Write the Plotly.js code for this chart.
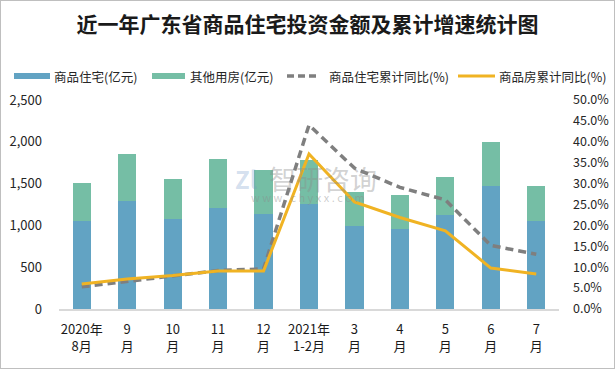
<!DOCTYPE html>
<html>
<head>
<meta charset="utf-8">
<script src="https://cdn.plot.ly/plotly-3.0.1.min.js"></script>
<style>
html,body{margin:0;padding:0;background:#fff;}
#wrap{position:absolute;left:0;top:0;width:613px;height:367px;border:1px solid #bfbfbf;}
#chart{position:absolute;left:-1px;top:-1px;width:615px;height:369px;}
</style>
</head>
<body>
<div id="wrap"><div id="chart"></div></div>
<script>
const categories = ["2020年<br>8月","9<br>月","10<br>月","11<br>月","12<br>月","2021年<br>1-2月","3<br>月","4<br>月","5<br>月","6<br>月","7<br>月"];
const residential = [1054, 1293, 1078, 1210, 1138, 1257, 998, 959, 1126, 1472, 1054];
const otherUse = [454, 561, 478, 585, 525, 526, 403, 406, 454, 526, 418];
const residentialYoY = [5.3, 6.6, 7.8, 9.2, 9.6, 44.0, 33.7, 29.1, 26.1, 15.2, 13.1];
const housingYoY = [6.0, 7.2, 8.0, 9.1, 9.1, 37.1, 25.6, 21.9, 18.7, 9.8, 8.4];
const names = ["商品住宅(亿元)","其他用房(亿元)","商品住宅累计同比(%)","商品房累计同比(%)"];

const BLUE = "#62a3c3", GREEN = "#75bea5", GRAY = "#7f7f7f", GOLD = "#f0b323";
const FONT = "Noto Sans CJK SC, sans-serif";

const data = [
  {type:"bar", name:names[0], x:categories, y:residential, marker:{color:BLUE}, showlegend:false, hoverinfo:"skip"},
  {type:"bar", name:names[1], x:categories, y:otherUse, marker:{color:GREEN}, showlegend:false, hoverinfo:"skip"},
  {type:"scatter", name:names[2], mode:"lines", x:categories, y:residentialYoY, yaxis:"y2", line:{color:GRAY, width:3.5, dash:"8px,5px"}, showlegend:false, hoverinfo:"skip"},
  {type:"scatter", name:names[3], mode:"lines", x:categories, y:housingYoY, yaxis:"y2", line:{color:GOLD, width:3}, showlegend:false, hoverinfo:"skip"}
];

// legend drawn by hand (plot area: x 59..559 px, y 100..309 px)
const PL = 59, PW = 500, PB = 309, PH = 209;
const px = v => (v - PL) / PW;
const py = v => (PB - v) / PH;
const legendY = 76;
const legendItems = [
  {x0:14, x1:50, tx:52, color:BLUE, width:6, dash:"solid"},
  {x0:152, x1:185, tx:188, color:GREEN, width:6, dash:"solid"},
  {x0:287, x1:320, tx:327, color:GRAY, width:3.5, dash:"7px,4px"},
  {x0:458, x1:495, tx:497, color:GOLD, width:3, dash:"solid"}
];
const shapes = legendItems.map(it => ({type:"line", xref:"paper", yref:"paper",
  x0:px(it.x0), x1:px(it.x1), y0:py(legendY), y1:py(legendY), line:{color:it.color, width:it.width, dash:it.dash}}));
const legendTexts = legendItems.map((it, i) => ({text:names[i], xref:"paper", yref:"paper", x:px(it.tx), y:py(legendY),
  xanchor:"left", yanchor:"middle", showarrow:false, font:{size:12.5, color:"#262626"}}));

const layout = {
  width:615, height:369,
  margin:{l:59, r:56, t:100, b:60},
  paper_bgcolor:"rgba(0,0,0,0)", plot_bgcolor:"rgba(0,0,0,0)",
  barmode:"stack", bargap:0.6,
  font:{family:FONT, size:13, color:"#262626"},
  title:{text:"<b>近一年广东省商品住宅投资金额及累计增速统计图</b>", x:0.5, xanchor:"center", y:1-25/369, yanchor:"middle", yref:"container",
         font:{family:"Noto Sans CJK SC, serif", size:21, color:"#1a1a1a"}},
  showlegend:false,
  xaxis:{type:"category", showline:true, linecolor:"#d9d9d9", linewidth:1.5, ticks:"", showgrid:false, zeroline:false,
         tickfont:{size:13, color:"#1a1a1a"}, ticklabelstandoff:8, fixedrange:true},
  yaxis:{range:[0,2500], dtick:500, tickformat:",d", showgrid:false, zeroline:false, showline:false, ticks:"",
         tickfont:{size:13, color:"#262626"}, ticklabelstandoff:16, fixedrange:true},
  yaxis2:{overlaying:"y", side:"right", range:[0,50], dtick:5, tickformat:".1f", ticksuffix:"%", showgrid:false, zeroline:false,
          showline:false, ticks:"", tickfont:{size:12.5, color:"#262626"}, ticklabelstandoff:13, fixedrange:true},
  shapes: shapes,
  annotations: legendTexts.concat([
    {text:"智研咨询", xref:"paper", yref:"paper", x:px(323), y:py(178), showarrow:false, font:{size:27, color:"rgba(140,140,140,0.4)"}},
    {text:"w w w . c h y x x . c o m", xref:"paper", yref:"paper", x:px(308), y:py(197), showarrow:false, font:{size:11, color:"rgba(140,140,140,0.45)"}},
    {text:"<b>Zl</b>", xref:"paper", yref:"paper", x:px(246), y:py(178), showarrow:false, font:{size:24, color:"rgba(110,150,200,0.3)"}}
  ])
};

Plotly.newPlot("chart", data, layout, {displayModeBar:false, staticPlot:true});
</script>
</body>
</html>
